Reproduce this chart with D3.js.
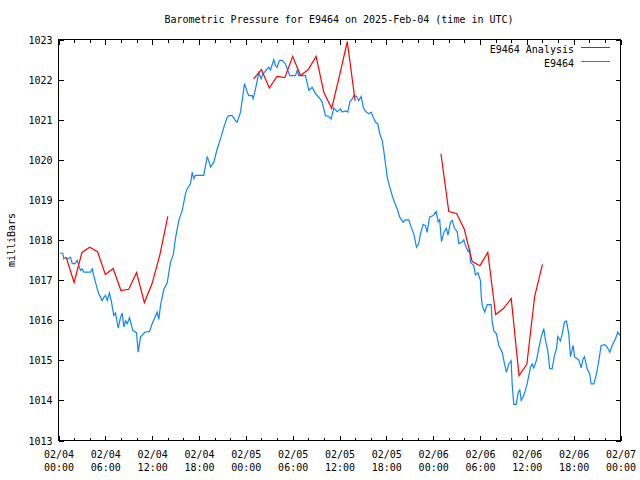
<!DOCTYPE html>
<html>
<head>
<meta charset="utf-8">
<script src="https://cdn.jsdelivr.net/npm/d3@7"></script>
<style>
  html, body { margin: 0; padding: 0; background: #fff; }
  svg { display: block; }
  text { font-family: "DejaVu Sans Mono", "Liberation Mono", monospace; font-size: 10px; fill: #000; }
</style>
</head>
<body>
<svg id="chart" width="640" height="480"></svg>
<script>
// ---- data (hours since 2025-02-04 00:00 UTC) ----
const chartTitle = "Barometric Pressure for E9464 on 2025-Feb-04 (time in UTC)";
const yLabel = "milliBars";
const seriesNames = ["E9464 Analysis", "E9464"];
const yTicks = [1013, 1014, 1015, 1016, 1017, 1018, 1019, 1020, 1021, 1022, 1023];
const xTickHours = [0, 6, 12, 18, 24, 30, 36, 42, 48, 54, 60, 66, 72];

const obsHours = [0.2,0.55,0.68,0.9,1.11,1.54,1.76,2.09,2.4,2.6,2.82,3.04,3.24,4.1,4.32,4.52,4.96,5.16,5.6,5.8,
  6.02,6.24,6.53,6.79,7.08,7.3,7.65,7.94,8.16,8.37,8.58,8.8,9.1,9.52,9.99,10.21,10.5,11.06,11.66,12.0,
  12.64,12.85,13.07,13.49,13.93,14.35,14.71,14.99,15.41,15.85,16.27,16.49,16.91,17.13,17.33,17.55,18.61,19.05,19.25,19.47,
  19.9,20.33,20.75,21.18,21.61,21.82,22.25,22.67,22.89,23.32,23.53,23.83,24.25,24.38,24.81,24.94,25.24,25.66,25.97,26.17,
  26.39,26.74,26.94,27.16,27.58,27.8,28.02,28.31,28.66,29.08,29.3,29.63,30.36,30.58,30.78,31.64,32.07,32.5,32.92,33.35,
  33.78,34.2,34.63,34.93,35.27,35.7,36.13,36.34,36.77,37.06,37.32,37.63,37.83,38.18,38.47,38.78,39.04,39.33,39.75,40.06,
  40.32,40.61,40.9,41.16,41.47,41.67,41.89,42.11,42.44,42.75,43.04,43.39,43.72,44.16,44.45,44.88,45.18,45.52,45.86,46.16,
  46.37,46.72,47.01,47.23,47.53,48.0,48.39,48.64,48.83,49.07,49.36,49.68,49.9,50.22,50.44,50.77,51.08,51.28,51.72,51.92,
  52.14,52.48,52.69,52.78,53.2,53.42,53.74,54.06,54.15,54.28,54.61,54.92,55.43,55.56,55.77,56.11,56.41,56.84,57.14,57.39,
  57.69,57.99,58.12,58.33,58.64,58.89,59.1,59.28,59.61,60.04,60.47,60.68,60.89,61.23,61.53,61.84,62.17,62.39,62.68,62.94,
  63.25,63.54,63.8,63.96,64.31,64.53,64.82,65.08,65.37,65.59,65.94,66.1,66.65,66.96,67.21,67.38,67.73,68.06,68.24,68.58,
  68.92,69.22,69.52,69.95,70.29,70.63,70.93,71.36,71.65,71.91];
const obsValues = [1017.67,1017.67,1017.53,1017.57,1017.53,1017.57,1017.41,1017.41,1017.49,1017.36,1017.24,1017.28,1017.2,1017.2,1017.28,1017.11,1016.78,1016.66,1016.49,1016.57,
  1016.62,1016.49,1016.68,1016.45,1016.12,1016.18,1015.8,1016.07,1016.18,1015.83,1015.99,1015.91,1016.06,1015.74,1015.69,1015.2,1015.58,1015.7,1015.72,1015.91,
  1016.2,1016.02,1016.37,1016.77,1016.93,1017.45,1017.64,1018.04,1018.49,1018.74,1019.15,1019.28,1019.4,1019.69,1019.53,1019.61,1019.61,1020.07,1019.98,1019.82,
  1019.94,1020.27,1020.52,1020.81,1021.06,1021.1,1021.1,1020.98,1020.94,1021.19,1021.48,1021.9,1021.65,1021.6,1021.6,1021.52,1021.77,1022.17,1022.02,1022.14,
  1022.18,1022.27,1022.31,1022.24,1022.5,1022.35,1022.31,1022.48,1022.48,1022.39,1022.27,1022.1,1022.1,1022.23,1022.1,1022.1,1021.73,1021.81,1021.65,1021.56,
  1021.44,1021.1,1021.08,1021.02,1021.29,1021.2,1021.27,1021.19,1021.22,1021.19,1021.44,1021.52,1021.6,1021.58,1021.48,1021.58,1021.31,1021.21,1021.15,1021.19,
  1021.06,1020.94,1020.9,1020.65,1020.48,1020.23,1019.9,1019.57,1019.32,1019.11,1018.94,1018.78,1018.57,1018.44,1018.5,1018.5,1018.32,1018.15,1017.82,1017.91,
  1018.15,1018.39,1018.36,1018.19,1018.57,1018.61,1018.71,1018.45,1018.51,1017.96,1018.19,1018.29,1018.12,1018.44,1018.49,1018.28,1018.21,1017.91,1017.95,1018.01,
  1017.86,1017.71,1017.76,1017.44,1017.36,1017.13,1017.18,1016.99,1016.62,1016.37,1016.2,1016.39,1016.39,1015.95,1015.74,1015.66,1015.37,1015.2,1014.91,1014.7,
  1014.91,1014.99,1014.41,1013.9,1013.9,1014.2,1014.26,1014.0,1014.12,1014.41,1014.83,1014.91,1014.81,1015.0,1015.29,1015.58,1015.79,1015.49,1015.24,1014.79,
  1014.79,1015.12,1015.29,1015.59,1015.48,1015.66,1015.95,1015.98,1015.66,1015.09,1015.37,1015.09,1015.01,1014.81,1015.04,1015.09,1014.79,1014.66,1014.41,1014.41,
  1014.66,1014.99,1015.37,1015.39,1015.33,1015.2,1015.37,1015.54,1015.7,1015.62];

const anaHours = [1,2,3,4,5,6,7,8,9,10,11,12,13,14,
  25,26,27,28,29,30,31,32,33,34,35,36,37,38,
  49,50,51,52,53,54,55,56,57,58,59,60,61,62];
const anaValues = [1017.56,1016.94,1017.69,1017.82,1017.71,1017.14,1017.29,1016.74,1016.77,1017.19,1016.44,1016.92,1017.64,1018.59,
  1022.02,1022.25,1021.79,1022.08,1022.05,1022.58,1022.10,1022.25,1022.58,1021.68,1021.28,1022.10,1022.95,1021.47,
  1020.15,1018.71,1018.66,1018.26,1017.46,1017.36,1017.69,1016.14,1016.29,1016.54,1014.62,1014.90,1016.59,1017.39];

// ---- layout ----
const L = 58, R = 620, T = 39, B = 440;
const t0 = Date.UTC(2025, 1, 4, 0, 0);
const H = 3600 * 1000;
const toDate = h => new Date(t0 + h * H);
const RED = "#ff0000", BLUE = "#0f86ff";

const svg = d3.select("#chart");
const x = d3.scaleUtc().domain([toDate(0), toDate(72)]).range([L + 0.5, R + 0.5]);
const y = d3.scaleLinear().domain([1013, 1023]).range([B + 0.5, T + 0.5]);

const majorDates = xTickHours.map(toDate);
const minorDates = d3.range(0, 73, 2).filter(h => h % 6 !== 0).map(toDate);

// minor ticks
svg.append("g").attr("transform", `translate(0,${B + 0.5})`)
  .call(d3.axisBottom(x).tickValues(minorDates).tickSizeInner(-3).tickSizeOuter(0).tickFormat(""));
svg.append("g").attr("transform", `translate(0,${T + 0.5})`)
  .call(d3.axisTop(x).tickValues(minorDates).tickSizeInner(-3).tickSizeOuter(0).tickFormat(""));

// major x ticks + labels
const fmtDay = d3.utcFormat("%m/%d"), fmtTime = d3.utcFormat("%H:%M");
const gx = svg.append("g").attr("transform", `translate(0,${B + 0.5})`)
  .call(d3.axisBottom(x).tickValues(majorDates).tickSizeInner(-5).tickSizeOuter(0).tickPadding(0).tickFormat(""));
gx.selectAll(".tick").each(function(d) {
  const t = d3.select(this).append("text").attr("text-anchor", "middle").attr("fill", "#000");
  t.append("tspan").attr("x", 0).attr("y", 17).text(fmtDay(d));
  t.append("tspan").attr("x", 0).attr("y", 30).text(fmtTime(d));
});
svg.append("g").attr("transform", `translate(0,${T + 0.5})`)
  .call(d3.axisTop(x).tickValues(majorDates).tickSizeInner(-5).tickSizeOuter(0).tickFormat(""));

// y axes
const gy = svg.append("g").attr("transform", `translate(${L + 0.5},0)`)
  .call(d3.axisLeft(y).tickValues(yTicks).tickSizeInner(-5).tickSizeOuter(0).tickPadding(6).tickFormat(d3.format("d")));
gy.selectAll("text").attr("x", -6).attr("dy", "0.35em");
svg.append("g").attr("transform", `translate(${R + 0.5},0)`)
  .call(d3.axisRight(y).tickValues(yTicks).tickSizeInner(-5).tickSizeOuter(0).tickFormat(""));

svg.selectAll(".domain").remove();
svg.selectAll(".tick line").attr("stroke", "#000").attr("shape-rendering", "crispEdges");
svg.selectAll("g text").style("font-family", '"DejaVu Sans Mono", "Liberation Mono", monospace').style("font-size", "10px");

// frame
svg.append("rect").attr("x", L + 0.5).attr("y", T + 0.5).attr("width", R - L).attr("height", B - T)
  .attr("fill", "none").attr("stroke", "#000").attr("shape-rendering", "crispEdges");

// lines
const line = d3.line().x(d => x(toDate(d[0]))).y(d => y(d[1]));
const obs = obsHours.map((h, i) => [h, obsValues[i]]);
const ana = anaHours.map((h, i) => [h, anaValues[i]]);
const anaSegs = [];
ana.forEach((p, i) => {
  if (i === 0 || p[0] - ana[i - 1][0] > 1.5) anaSegs.push([]);
  anaSegs[anaSegs.length - 1].push(p);
});

svg.append("path").datum(obs).attr("d", line).attr("fill", "none")
  .attr("stroke", BLUE).attr("stroke-width", 1.2);
anaSegs.forEach(seg => {
  svg.append("path").datum(seg).attr("d", line).attr("fill", "none")
    .attr("stroke", RED).attr("stroke-width", 1.2);
});

// legend
const legend = [
  { name: seriesNames[0], color: RED, y: 49 },
  { name: seriesNames[1], color: BLUE, y: 63 }
];
legend.forEach(item => {
  svg.append("text").attr("x", 574).attr("y", item.y).attr("dy", "0.35em")
    .attr("text-anchor", "end").text(item.name);
  svg.append("rect").attr("x", 581).attr("y", item.y - 2).attr("width", 29).attr("height", 1)
    .attr("fill", item.color).attr("stroke", "none");
});

// title & y label
svg.append("text").attr("x", 339).attr("y", 19).attr("dy", "0.35em").attr("text-anchor", "middle").text(chartTitle);
svg.append("text").attr("transform", "translate(11,240) rotate(-90)").attr("dy", "0.35em")
  .attr("text-anchor", "middle").text(yLabel);
</script>
</body>
</html>
